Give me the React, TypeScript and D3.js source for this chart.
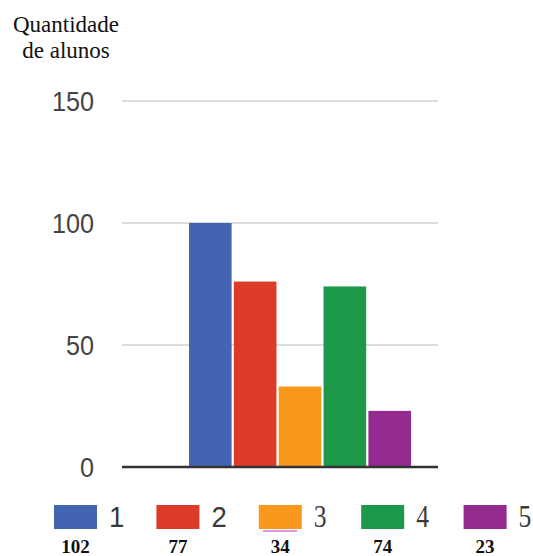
import React from "react";
import * as d3 from "d3";

const categories = ["1", "2", "3", "4", "5"];
const barValues = [100, 76, 33, 74, 23];
const countLabels = ["102", "77", "34", "74", "23"];
const colors = ["#4364B0", "#DB3B27", "#F8981D", "#1B9948", "#932A8D"];
const yTicks = [0, 50, 100, 150];
const titleLines = ["Quantidade", "de alunos"];

const SERIF = "'Liberation Serif', 'DejaVu Serif', serif";
const SANS = "'Liberation Sans', Arial, sans-serif";

export default function App() {
  const W = 533;
  const H = 556;
  const y = d3.scaleLinear().domain([0, 150]).range([467, 101]);
  const x = d3.scaleBand<string>().domain(categories).range([189, 411]).paddingInner(0.05);
  const legend = d3.scaleBand<string>().domain(categories).range([54, 566]).paddingInner(0);
  const swW = 43;
  const gridX0 = 122;
  const gridX1 = 438;

  return (
    <svg width={W} height={H} style={{ position: "absolute", left: 0, top: 0, background: "#fff" }}>
      <g fontFamily={SERIF}>
        {titleLines.map((t, i) => (
          <text key={t} x={66} y={32 + i * 26} textAnchor="middle" fontSize={23} fill="#111">
            {t}
          </text>
        ))}
      </g>
      {yTicks.filter((t) => t > 0).map((t) => (
        <line key={"g" + t} x1={gridX0} x2={gridX1} y1={y(t)} y2={y(t)} stroke="#cfcfcf" strokeWidth={1.6} />
      ))}
      {yTicks.map((t) => (
        <text
          key={"t" + t}
          transform={`translate(94,${y(t) + 10}) scale(0.9,1)`}
          textAnchor="end"
          fontFamily={SANS}
          fontSize={28}
          fill="#444"
        >
          {t}
        </text>
      ))}
      {categories.map((c, i) => (
        <rect key={"b" + c} x={x(c)} y={y(barValues[i])} width={x.bandwidth()} height={y(0) - y(barValues[i])} fill={colors[i]} />
      ))}
      <line x1={gridX0} x2={gridX1} y1={y(0)} y2={y(0)} stroke="#333" strokeWidth={2.5} />
      {categories.map((c, i) => {
        const lx = legend(c) as number;
        return (
          <g key={"l" + c}>
            <rect x={lx} y={505} width={swW} height={24} fill={colors[i]} />
            <text
              transform={`translate(${lx + swW + 12},527) scale(${i < 2 ? 0.95 : 0.8},1)`}
              fontFamily={i < 2 ? SANS : SERIF}
              fontSize={i < 2 ? 29 : 32}
              fill="#3a3a3a"
            >
              {c}
            </text>
            <text x={lx + swW / 2} y={553} textAnchor="middle" fontFamily={SERIF} fontWeight="bold" fontSize={19} fill="#111">
              {countLabels[i]}
            </text>
          </g>
        );
      })}
      <line x1={263} x2={297} y1={531} y2={531} stroke="#d07ac8" strokeWidth={1.5} />
    </svg>
  );
}
